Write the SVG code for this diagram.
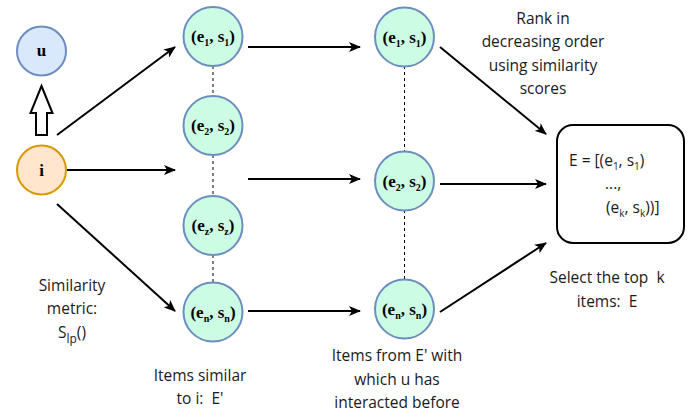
<svg xmlns="http://www.w3.org/2000/svg" width="689" height="415" viewBox="0 0 689 415">
<defs>
<marker id="arr" viewBox="0 0 12 10" refX="11" refY="5" markerWidth="12" markerHeight="10" markerUnits="userSpaceOnUse" orient="auto">
<path d="M0,0 L12,5 L0,10 L3,5 Z" fill="#000"/>
</marker>
<style>
.lbl{font-family:"Open Sans","Liberation Sans",sans-serif;font-size:15.5px;fill:#1a1a1a;text-anchor:middle}
.nd{font-family:"Liberation Serif",serif;font-size:17px;font-weight:bold;fill:#000;text-anchor:middle}
.sub{font-size:10px}
.item{fill:#ccfce3;stroke:#6c8ebf;stroke-width:2}
.con{stroke:#000;stroke-width:2;fill:none;marker-end:url(#arr)}
.dot{stroke:#000;stroke-width:1;stroke-dasharray:3,3;fill:none}
</style>
</defs>
<rect width="689" height="415" fill="#fff"/>

<g id="connectors">
<path class="con" d="M57,135 L175,47"/>
<path class="con" d="M66,170 L175,170"/>
<path class="con" d="M57,204 L175,311"/>
<path class="con" d="M248,47 L360,47"/>
<path class="con" d="M248,179 L360,179"/>
<path class="con" d="M248,311 L360,311"/>
<path class="con" d="M440,47 L546,134"/>
<path class="con" d="M440,184 L546,184"/>
<path class="con" d="M440,312 L546,243"/>
<path class="dot" d="M213,66 L213,96"/>
<path class="dot" d="M213,155 L213,196"/>
<path class="dot" d="M213,255 L213,283"/>
<path class="dot" d="M404.5,66 L404.5,152"/>
<path class="dot" d="M404.5,210 L404.5,280"/>
<path d="M41.5,86 L52.5,113 L47,113 L47,135 L36,135 L36,113 L30.5,113 Z" fill="#fff" stroke="#000" stroke-width="2" stroke-linejoin="miter"/>
</g>

<g id="node-u">
<circle cx="41.5" cy="51" r="24.5" fill="#dae8fc" stroke="#6c8ebf" stroke-width="2"/>
<text class="nd" x="41.5" y="56">u</text>
</g>
<g id="node-i">
<circle cx="41.5" cy="170" r="24.5" fill="#ffe6cc" stroke="#d79b00" stroke-width="2"/>
<text class="nd" x="41.5" y="176">i</text>
</g>

<g id="c1-e1"><circle class="item" cx="213" cy="36.5" r="29.5"/>
<text class="nd" x="213" y="42">(e<tspan class="sub" dy="4">1</tspan><tspan dy="-4">, s</tspan><tspan class="sub" dy="4">1</tspan><tspan dy="-4">)</tspan></text></g>
<g id="c1-e2"><circle class="item" cx="213" cy="125.5" r="29.5"/>
<text class="nd" x="213" y="131">(e<tspan class="sub" dy="4">2</tspan><tspan dy="-4">, s</tspan><tspan class="sub" dy="4">2</tspan><tspan dy="-4">)</tspan></text></g>
<g id="c1-ez"><circle class="item" cx="213" cy="225.5" r="29.5"/>
<text class="nd" x="213" y="231">(e<tspan class="sub" dy="4">z</tspan><tspan dy="-4">, s</tspan><tspan class="sub" dy="4">z</tspan><tspan dy="-4">)</tspan></text></g>
<g id="c1-en"><circle class="item" cx="213" cy="312" r="29.5"/>
<text class="nd" x="213" y="317.5">(e<tspan class="sub" dy="4">n</tspan><tspan dy="-4">, s</tspan><tspan class="sub" dy="4">n</tspan><tspan dy="-4">)</tspan></text></g>

<g id="c2-e1"><circle class="item" cx="404.5" cy="37" r="29.5"/>
<text class="nd" x="404.5" y="42.5">(e<tspan class="sub" dy="4">1</tspan><tspan dy="-4">, s</tspan><tspan class="sub" dy="4">1</tspan><tspan dy="-4">)</tspan></text></g>
<g id="c2-e2"><circle class="item" cx="404.5" cy="181" r="29.5"/>
<text class="nd" x="404.5" y="186.5">(e<tspan class="sub" dy="4">2</tspan><tspan dy="-4">, s</tspan><tspan class="sub" dy="4">2</tspan><tspan dy="-4">)</tspan></text></g>
<g id="c2-en"><circle class="item" cx="404.5" cy="309" r="29.5"/>
<text class="nd" x="404.5" y="314.5">(e<tspan class="sub" dy="4">n</tspan><tspan dy="-4">, s</tspan><tspan class="sub" dy="4">n</tspan><tspan dy="-4">)</tspan></text></g>

<g id="result">
<rect x="557" y="125" width="127" height="118" rx="16" ry="16" fill="#fff" stroke="#000" stroke-width="2"/>
<text class="lbl" x="569" y="166" style="text-anchor:start">E = [(e<tspan class="sub" dy="4">1</tspan><tspan dy="-4">, s</tspan><tspan class="sub" dy="4">1</tspan><tspan dy="-4">)</tspan></text>
<text class="lbl" x="605" y="189" style="text-anchor:start">...,</text>
<text class="lbl" x="606" y="213" style="text-anchor:start">(e<tspan class="sub" dy="4">k</tspan><tspan dy="-4">, s</tspan><tspan class="sub" dy="4">k</tspan><tspan dy="-4">))]</tspan></text>
</g>

<g id="labels">
<text class="lbl" x="543" y="24">Rank in</text>
<text class="lbl" x="543" y="47">decreasing order</text>
<text class="lbl" x="543" y="71">using similarity</text>
<text class="lbl" x="543" y="94">scores</text>
<text class="lbl" x="72" y="291">Similarity</text>
<text class="lbl" x="72" y="314">metric:</text>
<text class="lbl" x="72" y="338">S<tspan class="sub" dy="5" style="font-size:12px">lp</tspan><tspan dy="-5">()</tspan></text>
<text class="lbl" x="200" y="381">Items similar</text>
<text class="lbl" x="200" y="404">to i:&#160; E'</text>
<text class="lbl" x="397" y="361">Items from E' with</text>
<text class="lbl" x="397" y="385">which u has</text>
<text class="lbl" x="397" y="408">interacted before</text>
<text class="lbl" x="607" y="283">Select the top&#160; k</text>
<text class="lbl" x="607" y="307">items:&#160; E</text>
</g>
</svg>
